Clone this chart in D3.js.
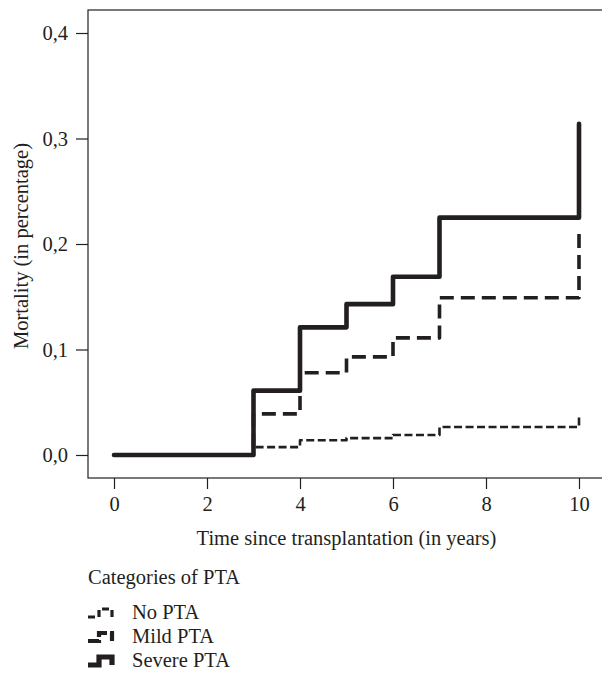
<!DOCTYPE html>
<html><head><meta charset="utf-8">
<script src="https://cdn.jsdelivr.net/npm/d3@7"></script>
<style>body{margin:0;background:#fff}svg{display:block}text{font-family:"Liberation Serif",serif;fill:#231f20}</style>
</head><body><div id="c"></div>
<script>
const years = [0, 3, 4, 5, 6, 7, 10];
const noPTA = [0, 0.0075, 0.014, 0.016, 0.019, 0.0265, 0.038];
const mildPTA = [0, 0.039, 0.078, 0.093, 0.111, 0.149, 0.211];
const severePTA = [0, 0.061, 0.121, 0.143, 0.169, 0.225, 0.314];
const seriesNames = ["No PTA", "Mild PTA", "Severe PTA"];
const xTicks = [0, 2, 4, 6, 8, 10];
const yTicks = [0, 0.1, 0.2, 0.3, 0.4];

const W = 602, H = 674;
const svg = d3.select("#c").append("svg").attr("width", W).attr("height", H);
const x = d3.scaleLinear().domain([0, 10]).range([114, 579]);
const y = d3.scaleLinear().domain([0, 0.4]).range([455, 33]);
const ink = "#231f20";
const fs = 20.5;

// frame
svg.append("rect").attr("x", 88).attr("y", 10).attr("width", 520).attr("height", 468)
  .attr("fill", "none").attr("stroke", ink).attr("stroke-width", 1.2);

// y axis
const yAx = svg.append("g").attr("transform", "translate(88,0)")
  .call(d3.axisLeft(y).tickValues(yTicks).tickSize(12).tickPadding(8)
    .tickFormat(d => d3.format(".1f")(d).replace(".", ",")));
yAx.select(".domain").remove();
yAx.selectAll("line").attr("stroke", ink).attr("stroke-width", 1.2);
yAx.selectAll("text").attr("font-size", fs).attr("font-family", "Liberation Serif").attr("fill", ink);

// x axis
const xAx = svg.append("g").attr("transform", "translate(0,478)")
  .call(d3.axisBottom(x).tickValues(xTicks).tickSize(11).tickPadding(7));
xAx.select(".domain").remove();
xAx.selectAll("line").attr("stroke", ink).attr("stroke-width", 1.2);
xAx.selectAll("text").attr("font-size", fs).attr("font-family", "Liberation Serif").attr("fill", ink);

svg.append("text").attr("x", x(5)).attr("y", 545).attr("text-anchor", "middle")
  .attr("font-size", fs).text("Time since transplantation (in years)");
svg.append("text").attr("transform", "translate(28,246) rotate(-90)").attr("text-anchor", "middle")
  .attr("font-size", fs).text("Mortality (in percentage)");

const styles = [
  {w: 2.6, dash: "8,3.5"},
  {w: 3.6, dash: "14,7"},
  {w: 4.6, dash: null}
];
const data = [noPTA, mildPTA, severePTA];
const line = d3.line().x(d => x(d[0])).y(d => y(d[1])).curve(d3.curveStepAfter);

data.forEach((vals, i) => {
  const pts = years.map((t, j) => [t, vals[j]]);
  const p = svg.append("path").datum(pts).attr("d", line)
    .attr("fill", "none").attr("stroke", ink).attr("stroke-width", styles[i].w)
    .attr("stroke-linecap", "round").attr("stroke-linejoin", "round");
  if (styles[i].dash) p.attr("stroke-dasharray", styles[i].dash).attr("stroke-linecap", "butt");
});

// legend
svg.append("text").attr("x", 88).attr("y", 584).attr("font-size", fs).text("Categories of PTA");
const iconDash = ["7,4", "12,3", null];
seriesNames.forEach((n, i) => {
  const yy = 613 + i * 24;
  const p = svg.append("path")
    .attr("d", `M88,${yy + 4}H99V${yy - 4}H112V${yy + 4}`)
    .attr("fill", "none").attr("stroke", ink).attr("stroke-width", styles[i].w + 0.6);
  if (iconDash[i]) p.attr("stroke-dasharray", iconDash[i]);
  svg.append("text").attr("x", 132).attr("y", yy + 6).attr("font-size", fs).text(n);
});
</script></body></html>
